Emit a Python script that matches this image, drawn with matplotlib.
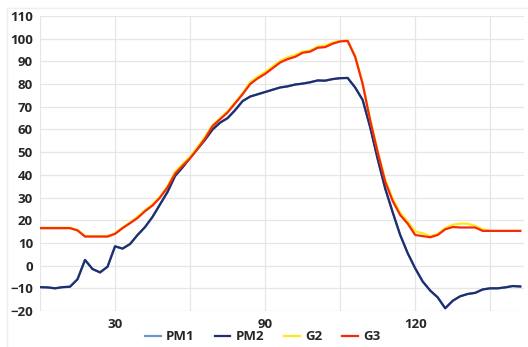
import numpy as np
import matplotlib.pyplot as plt
from matplotlib.lines import Line2D

# sample index (category axis)
idx = np.arange(65)

pm2 = [-9.5, -9.6, -10.0, -9.5, -9.3, -6.0, 2.5, -1.5, -3.0, -0.5,
       8.5, 7.5, 9.5, 13.5, 17.0, 21.5, 27.0, 32.5, 39.5, 43.3,
       47.5, 51.5, 55.5, 60.0, 63.0, 65.0, 68.5, 72.5, 74.5, 75.5,
       76.5, 77.5, 78.5, 79.0, 79.8, 80.2, 80.8, 81.6, 81.5, 82.2,
       82.6, 82.7, 78.5, 73.0, 61.0, 47.0, 34.0, 23.5, 13.5, 5.5,
       -1.2, -7.0, -11.0, -14.0, -18.8, -15.5, -13.5, -12.5, -12.0, -10.5,
       -10.0, -10.0, -9.6, -9.0, -9.2]
pm1 = list(pm2)

g3 = [16.5, 16.5, 16.5, 16.5, 16.5, 15.5, 12.8, 12.8, 12.8, 12.8,
      14.0, 16.5, 18.7, 21.0, 24.0, 26.5, 30.0, 34.5, 40.5, 44.0,
      47.3, 51.5, 56.0, 61.5, 64.5, 67.5, 71.5, 75.5, 80.0, 82.5,
      84.5, 87.0, 89.5, 91.0, 92.0, 93.8, 94.3, 96.0, 96.3, 97.8,
      98.8, 99.0, 92.0, 80.0, 64.0, 50.0, 37.0, 28.5, 22.3, 18.5,
      13.5, 13.0, 12.5, 13.5, 16.0, 17.0, 16.8, 16.8, 16.8, 15.3,
      15.3, 15.3, 15.3, 15.3, 15.3]
g2 = [16.7, 16.7, 16.7, 16.7, 16.7, 15.7, 13.0, 13.0, 13.0, 13.0,
      14.3, 16.8, 19.0, 21.5, 24.5, 27.0, 30.5, 35.0, 41.3, 44.8,
      48.0, 52.3, 56.8, 62.0, 65.0, 68.0, 72.0, 76.0, 80.8, 83.3,
      85.3, 87.8, 90.3, 91.8, 92.8, 94.3, 94.8, 96.5, 97.0, 98.3,
      99.0, 99.2, 92.5, 80.5, 64.5, 50.5, 38.0, 29.5, 23.3, 19.5,
      15.0, 14.3, 13.0, 14.0, 16.5, 18.0, 18.5, 18.5, 17.5, 16.0,
      15.3, 15.3, 15.3, 15.3, 15.3]

tick_pos = [10, 30, 50]
tick_labels = ['30', '90', '120']

fig = plt.figure(figsize=(5.28, 3.47), dpi=100)
ax = fig.add_axes([40/528, 1 - 311/347, 484/528, 295/347])

ax.plot(idx, pm1, color='#6f95d2', lw=1.6, label='PM1')
ax.plot(idx, pm2, color='#1f2f6e', lw=1.6, label='PM2')
ax.plot(idx, g2, color='#ffe81a', lw=1.6, label='G2')
ax.plot(idx, g3, color='#f52a0a', lw=1.6, label='G3')

ax.set_xlim(0, 64.5)
ax.set_ylim(-20, 110)
ax.set_yticks(range(-20, 111, 10))
ax.set_xticks(range(0, 65, 10), minor=False)
ax.set_xticklabels(['' if t not in tick_pos else tick_labels[tick_pos.index(t)]
                    for t in range(0, 65, 10)])
ax.grid(True, color='#e6e6e6', lw=0.9)
ax.set_axisbelow(True)
for s in ax.spines.values():
    s.set_visible(False)
ax.tick_params(length=0, labelsize=9.5, labelcolor='#262626', pad=5)
for lab in ax.get_xticklabels() + ax.get_yticklabels():
    lab.set_fontfamily('Open Sans')
    lab.set_fontweight('bold')

leg = ax.legend(loc='center', bbox_to_anchor=(0.46, -0.088), ncol=4,
                frameon=False, handlelength=1.2, handletextpad=0.4,
                columnspacing=1.5, borderpad=0.1,
                prop={'family': 'Open Sans', 'size': 9.5, 'weight': 'bold'})
for t in leg.get_texts():
    t.set_color('#262626')

# faint chart-area border
fig.add_artist(Line2D([7/528, 7/528], [0, 1 - 8/347], color='#efefef', lw=1))
fig.add_artist(Line2D([7/528, 1], [1 - 8/347, 1 - 8/347], color='#efefef', lw=1))

fig.savefig('out.png', dpi=100)
